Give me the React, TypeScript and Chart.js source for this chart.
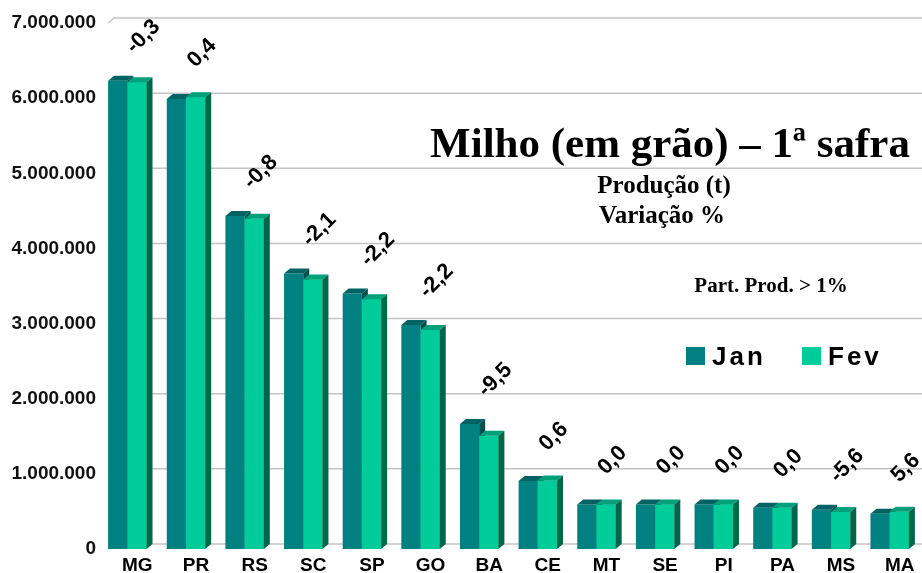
import React, { useEffect, useRef } from "react";
import { Chart, registerables } from "chart.js";

Chart.register(...registerables);

const categories = ["MG", "PR", "RS", "SC", "SP", "GO", "BA", "CE", "MT", "SE", "PI", "PA", "MS", "MA"];
const janValues = [6233000, 5989000, 4430000, 3665000, 3400000, 2980000, 1665000, 905000, 593000, 593000, 593000, 549000, 523000, 469000];
const fevValues = [6213000, 6013000, 4395000, 3588000, 3325000, 2914000, 1507000, 910000, 593000, 593000, 593000, 549000, 494000, 495000];
const variationLabels = ["-0,3", "0,4", "-0,8", "-2,1", "-2,2", "-2,2", "-9,5", "0,6", "0,0", "0,0", "0,0", "0,0", "-5,6", "5,6"];
const seriesNames = ["Jan", "Fev"];
const titleText = "Milho (em grão) – 1ª safra";
const subtitleLines = ["Produção (t)", "Variação %"];
const noteText = "Part. Prod. > 1%";

const FRONT = ["#008080", "#00CC99"];
const TOP = ["#006262", "#00a07a"];
const SIDE = ["#004f4f", "#00664a"];
const DX = 6;
const DY = 5;
const SANS = '"Liberation Sans", Arial, sans-serif';
const SERIF = '"Liberation Serif", "Times New Roman", serif';

function fmt(v: number): string {
  return String(Math.round(v)).replace(/\B(?=(\d{3})+(?!\d))/g, ".");
}

const depthPlugin = {
  id: "depth3d",
  beforeDatasetsDraw(chart: any) {
    const { ctx, scales } = chart;
    const y = scales.y;
    const first = chart.getDatasetMeta(0).data[0].getProps(["x", "width"], true);
    const x0 = first.x - first.width / 2;
    ctx.save();
    ctx.strokeStyle = "#c4c4c4";
    ctx.lineWidth = 1.5;
    for (const t of y.ticks) {
      const py = y.getPixelForValue(t.value);
      ctx.beginPath();
      ctx.moveTo(x0, py);
      ctx.lineTo(x0 + DX, py - DY);
      ctx.lineTo(chart.width, py - DY);
      ctx.stroke();
    }
    ctx.restore();
  },
  afterDatasetsDraw(chart: any) {
    const { ctx } = chart;
    const m0 = chart.getDatasetMeta(0).data;
    const m1 = chart.getDatasetMeta(1).data;
    ctx.save();
    for (let i = 0; i < m0.length; i++) {
      const els = [m0[i].getProps(["x", "y", "base", "width"], true), m1[i].getProps(["x", "y", "base", "width"], true)];
      els.forEach((e: any, s: number) => {
        const L = e.x - e.width / 2;
        const R = e.x + e.width / 2;
        if (s === 1) {
          ctx.fillStyle = FRONT[1];
          ctx.fillRect(L, e.y, R - L, e.base - e.y);
        }
        ctx.fillStyle = TOP[s];
        ctx.beginPath();
        ctx.moveTo(L, e.y);
        ctx.lineTo(R, e.y);
        ctx.lineTo(R + DX, e.y - DY);
        ctx.lineTo(L + DX, e.y - DY);
        ctx.closePath();
        ctx.fill();
        ctx.fillStyle = SIDE[s];
        ctx.beginPath();
        ctx.moveTo(R, e.y);
        ctx.lineTo(R + DX, e.y - DY);
        ctx.lineTo(R + DX, e.base - DY);
        ctx.lineTo(R, e.base);
        ctx.closePath();
        ctx.fill();
      });
      const cx = (els[0].x + els[1].x) / 2;
      const top = Math.min(els[0].y, els[1].y);
      ctx.save();
      ctx.translate(cx + 16, top - 44);
      ctx.rotate(-Math.PI / 4);
      ctx.fillStyle = "#000";
      ctx.font = `bold 22px ${SANS}`;
      ctx.textAlign = "center";
      ctx.textBaseline = "middle";
      ctx.fillText(variationLabels[i], 0, 0);
      ctx.restore();
    }
    ctx.restore();
  },
  afterDraw(chart: any) {
    const { ctx } = chart;
    ctx.save();
    ctx.fillStyle = "#000";
    ctx.textAlign = "center";
    ctx.textBaseline = "alphabetic";
    ctx.font = `bold 43px ${SERIF}`;
    ctx.fillText(titleText, 670, 157);
    ctx.font = `bold 25px ${SERIF}`;
    ctx.fillText(subtitleLines[0], 664, 193);
    ctx.fillText(subtitleLines[1], 662, 223);
    ctx.font = `bold 21px ${SERIF}`;
    ctx.fillText(noteText, 771, 292);
    // legend
    const lx = [686, 802];
    ctx.textAlign = "left";
    ctx.font = `bold 26px ${SANS}`;
    try { (ctx as any).letterSpacing = "3px"; } catch (e) {}
    for (let s = 0; s < 2; s++) {
      ctx.fillStyle = FRONT[s];
      ctx.fillRect(lx[s], 347, 19, 18);
      ctx.fillStyle = "#000";
      ctx.fillText(seriesNames[s], lx[s] + 26, 365);
    }
    ctx.restore();
  },
};

export default function App() {
  const ref = useRef<HTMLCanvasElement | null>(null);
  useEffect(() => {
    document.body.style.margin = "0";
    const chart = new Chart(ref.current!, {
      type: "bar",
      data: {
        labels: categories,
        datasets: [
          { label: seriesNames[0], data: janValues, backgroundColor: FRONT[0], borderWidth: 0 },
          { label: seriesNames[1], data: fevValues, backgroundColor: FRONT[1], borderWidth: 0 },
        ],
      },
      options: {
        animation: false,
        responsive: true,
        maintainAspectRatio: false,
        layout: { padding: { top: 23, right: 3, left: 0, bottom: 0 } },
        datasets: { bar: { categoryPercentage: 0.655, barPercentage: 1 } },
        plugins: { legend: { display: false }, tooltip: { enabled: false } },
        scales: {
          x: {
            grid: { display: false, drawTicks: false },
            border: { display: false },
            ticks: { color: "#000", font: { family: SANS, size: 19, weight: "bold" }, padding: 5, labelOffset: 10, maxRotation: 0, autoSkip: false },
            afterFit: (s: any) => { s.height = 24; },
          },
          y: {
            min: 0,
            max: 7000000,
            grid: { display: false, drawTicks: false },
            border: { display: false },
            ticks: { stepSize: 1000000, color: "#111", font: { family: SANS, size: 19, weight: "bold" }, padding: 2, callback: (v: any) => fmt(Number(v)) },
            afterFit: (s: any) => { s.width = 98; },
          },
        },
      },
      plugins: [depthPlugin],
    });
    return () => chart.destroy();
  }, []);
  return (
    <div style={{ position: "relative", width: 922, height: 573, background: "#fff" }}>
      <canvas ref={ref} />
    </div>
  );
}
